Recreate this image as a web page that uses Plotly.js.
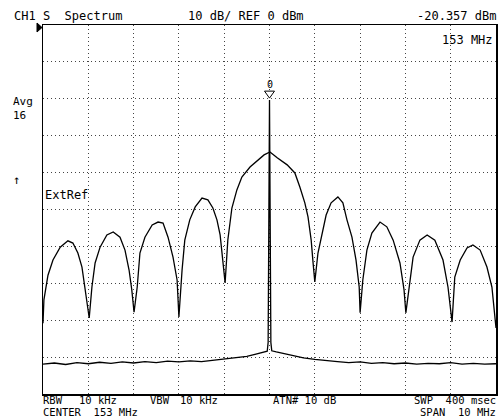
<!DOCTYPE html>
<html>
<head>
<meta charset="utf-8">
<script src="https://cdn.plot.ly/plotly-3.0.1.min.js"></script>
<style>
html,body{margin:0;padding:0;background:#fff;}
#chart{width:498px;height:419px;}
</style>
</head>
<body>
<div id="chart"></div>
<script>
// Modulated spectrum trace (averaged), frequency in MHz, level in dBm
var modFreq = [
 148.00,148.02,148.11,148.22,148.38,148.55,148.66,148.77,148.86,148.91,148.97,149.02,
 149.08,149.15,149.26,149.41,149.55,149.70,149.81,149.90,149.96,150.01,
 150.08,150.14,150.25,150.41,150.54,150.65,150.76,150.87,150.96,151.00,
 151.07,151.13,151.24,151.36,151.51,151.64,151.75,151.84,151.91,151.95,152.00,152.02,
 152.08,152.17,152.28,152.39,152.57,152.75,152.88,153.01,153.17,153.39,153.56,153.67,153.78,153.85,153.92,153.96,154.00,
 154.07,154.16,154.25,154.36,154.51,154.62,154.71,154.82,154.91,154.98,155.00,
 155.06,155.15,155.26,155.44,155.59,155.73,155.88,155.97,156.01,
 156.10,156.17,156.32,156.48,156.65,156.83,156.94,157.03,
 157.09,157.21,157.36,157.49,157.65,157.80,157.91,158.00
];
var modLevel = [
 -80.8,-74.5,-67.8,-63.7,-60.2,-58.5,-59.1,-61.8,-65.6,-69.9,-74.5,-79.4,
 -71.0,-64.5,-60.2,-56.9,-56.1,-57.5,-61.0,-66.4,-71.8,-77.8,
 -71.0,-61.8,-57.5,-54.2,-53.4,-53.7,-57.5,-62.9,-69.1,-79.1,
 -66.4,-58.3,-52.8,-49.3,-46.9,-47.4,-49.6,-52.8,-56.9,-61.8,-66.4,-69.9,
 -58.3,-49.6,-44.7,-41.2,-38.5,-36.6,-35.2,-34.4,-36.0,-37.9,-40.1,-43.9,-48.2,-52.0,-58.3,-64.2,-69.6,
 -61.8,-56.4,-51.5,-48.2,-46.6,-48.2,-52.8,-57.5,-63.7,-71.0,-78.0,
 -69.1,-61.0,-56.4,-53.4,-54.7,-58.3,-64.5,-71.8,-78.0,
 -69.1,-62.9,-58.3,-56.9,-58.3,-63.7,-71.0,-80.5,
 -68.3,-63.7,-60.4,-59.6,-61.0,-65.6,-71.0,-82.1
];
// Unmodulated carrier trace (noise floor + carrier)
var cwFreq = [148.0,148.25,148.5,148.75,149.0,149.25,149.5,149.75,150.0,150.25,150.5,150.75,
 151.0,151.25,151.5,151.75,152.0,152.25,152.5,152.7,152.85,152.95,152.97,153.0,153.03,153.05,
 153.15,153.3,153.5,153.75,154.0,154.25,154.5,154.75,155.0,155.25,155.5,155.75,156.0,156.25,
 156.5,156.75,157.0,157.25,157.5,157.75,158.0];
var cwLevel = [-91.9,-91.6,-92.0,-91.5,-91.8,-91.4,-91.7,-91.3,-91.6,-91.2,-91.5,-91.1,
 -91.3,-91.0,-91.2,-90.8,-90.6,-90.2,-89.8,-89.2,-88.8,-88.4,-86.0,-20.357,-86.0,-88.3,
 -88.6,-89.0,-89.6,-90.2,-90.6,-91.0,-91.2,-91.5,-91.3,-91.7,-91.5,-91.8,-91.6,-91.9,
 -91.7,-91.8,-91.5,-91.9,-91.7,-91.9,-91.8];

var markerFreq = 153;
var markerLevel = -20.357;
var xRange = [148, 158];   // CENTER 153 MHz, SPAN 10 MHz
var yRange = [-100, 0];    // REF 0 dBm, 10 dB/div
var xTicks = [148,149,150,151,152,153,154,155,156,157,158];
var yTicks = [-100,-90,-80,-70,-60,-50,-40,-30,-20,-10,0];

var FONT = "DejaVu Sans Mono, Liberation Mono, monospace";
var W = 498, H = 419, L = 43, R = 2, T = 25, B = 25;
var pw = W - L - R, ph = H - T - B;
function px(x){ return (x - L) / pw; }
function py(y){ return (H - B - y) / ph; }

function txt(s, x, y, anchor, size){
  return {text: s, xref:'paper', yref:'paper', x: px(x), y: py(y),
    xanchor: anchor || 'left', yanchor:'middle', showarrow:false,
    font:{family:FONT, size: size || 12, color:'#000'}, borderpad:0};
}

var traces = [
  {x: cwFreq, y: cwLevel, type:'scatter', mode:'lines',
   line:{color:'#000', width:1.3}, hoverinfo:'skip'},
  {x: modFreq, y: modLevel, type:'scatter', mode:'lines',
   line:{color:'#000', width:1.3}, hoverinfo:'skip'}
];

var axisCommon = {
  showgrid:true, gridcolor:'#444', gridwidth:1, griddash:'1px,3px',
  zeroline:false, showticklabels:false, ticks:'',
  showline:true, linecolor:'#000', linewidth:1.5, mirror:true, fixedrange:true
};

var layout = {
  width: W, height: H,
  margin:{l:L, r:R, t:T, b:B, pad:0},
  paper_bgcolor:'#fff', plot_bgcolor:'#fff',
  showlegend:false,
  xaxis: Object.assign({}, axisCommon, {range:xRange, tickvals:xTicks}),
  yaxis: Object.assign({}, axisCommon, {range:yRange, tickvals:yTicks}),
  shapes:[
    {type:'path', xref:'paper', yref:'paper',
     path:'M '+px(37)+' '+py(23)+' L '+px(37)+' '+py(32)+' L '+px(42)+' '+py(27.5)+' Z',
     fillcolor:'#000', line:{color:'#000', width:1}},
    {type:'path', xref:'x', yref:'y', xsizemode:'pixel', ysizemode:'pixel',
     xanchor: markerFreq, yanchor: markerLevel,
     path:'M -5 9 L 5 9 L 0 2 Z', fillcolor:'#fff', line:{color:'#000', width:1}}
  ],
  annotations:[
    txt('CH1 S  Spectrum', 13, 15.5),
    txt('10 dB/ REF 0 dBm', 187, 15.5),
    txt('-20.357 dBm', 497, 15.5, 'right'),
    txt('153 MHz', 494, 40.5, 'right'),
    txt('Avg', 12, 101, 'left', 11),
    txt('16', 12, 115.5, 'left', 11),
    txt('\u2191', 12, 180),
    txt('ExtRef', 44, 195),
    txt('RBW', 42, 400, 'left', 10.5),
    txt('10 kHz', 78, 400, 'left', 10.5),
    txt('VBW', 149, 400, 'left', 10.5),
    txt('10 kHz', 179, 400, 'left', 10.5),
    txt('ATN# 10 dB', 272, 400, 'left', 10.5),
    txt('SWP  400 msec', 497, 400, 'right', 10.5),
    txt('CENTER  153 MHz', 42, 411.5, 'left', 10.5),
    txt('SPAN  10 MHz', 497, 411.5, 'right', 10.5),
    {text:'0', xref:'x', yref:'y', x: markerFreq, y: markerLevel, yshift:16,
     xanchor:'center', yanchor:'middle', showarrow:false,
     font:{family:FONT, size:10, color:'#000'}}
  ]
};

Plotly.newPlot('chart', traces, layout, {staticPlot:true, displayModeBar:false});
</script>
</body>
</html>
